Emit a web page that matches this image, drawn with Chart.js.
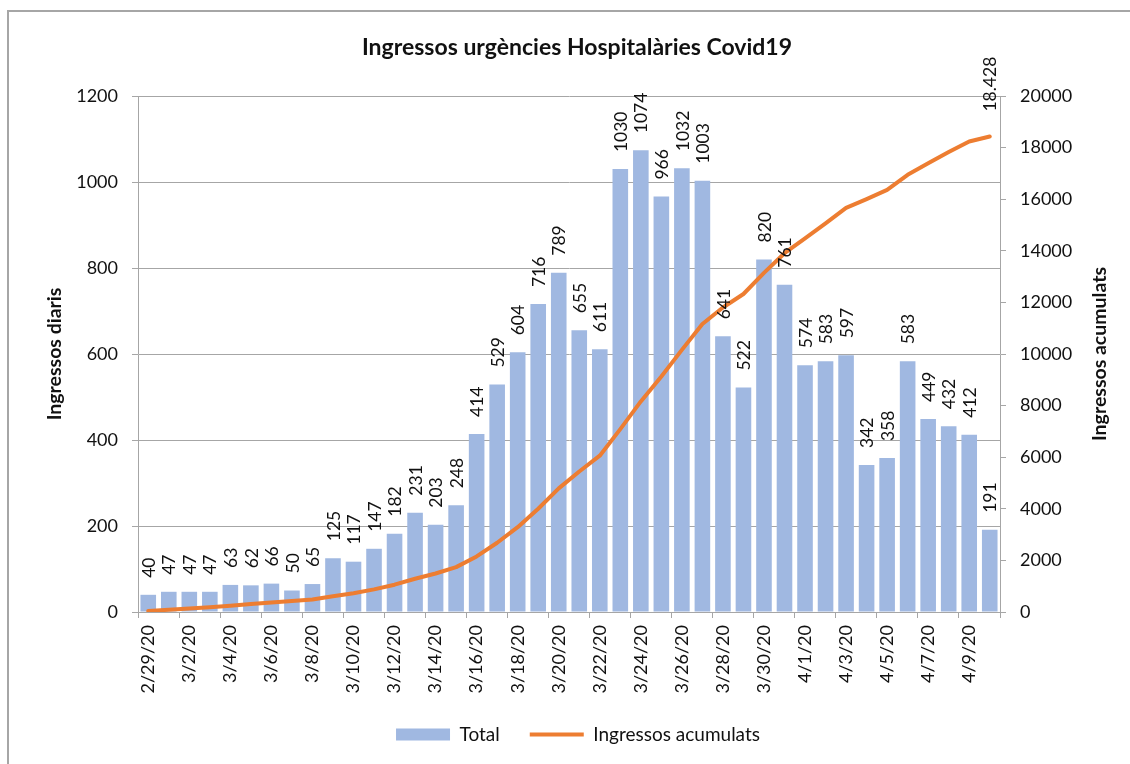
<!DOCTYPE html>
<html>
<head>
<meta charset="utf-8">
<script src="https://cdn.jsdelivr.net/npm/chart.js@4.4.0/dist/chart.umd.min.js"></script>
<style>
html,body{margin:0;padding:0;background:#fff;}
#wrap{width:1130px;height:764px;position:relative;}
</style>
</head>
<body>
<div id="wrap"><canvas id="c" width="1130" height="764"></canvas></div>
<script>
const chartTitle = 'Ingressos urgències Hospitalàries Covid19';
const leftAxisTitle = 'Ingressos diaris';
const rightAxisTitle = 'Ingressos acumulats';
const categories = ['2/29/20','3/1/20','3/2/20','3/3/20','3/4/20','3/5/20','3/6/20','3/7/20','3/8/20','3/9/20','3/10/20','3/11/20','3/12/20','3/13/20','3/14/20','3/15/20','3/16/20','3/17/20','3/18/20','3/19/20','3/20/20','3/21/20','3/22/20','3/23/20','3/24/20','3/25/20','3/26/20','3/27/20','3/28/20','3/29/20','3/30/20','3/31/20','4/1/20','4/2/20','4/3/20','4/4/20','4/5/20','4/6/20','4/7/20','4/8/20','4/9/20','4/10/20'];
const totalValues = [40,47,47,47,63,62,66,50,65,125,117,147,182,231,203,248,414,529,604,716,789,655,611,1030,1074,966,1032,1003,641,522,820,761,574,583,597,342,358,583,449,432,412,191];
const cumulativeValues = [40,87,134,181,244,306,372,422,487,612,729,876,1058,1289,1492,1740,2154,2683,3287,4003,4792,5447,6058,7088,8162,9128,10160,11163,11804,12326,13146,13907,14481,15064,15661,16003,16361,16944,17393,17825,18237,18428];
const cumulativeLastLabel = '18.428';
const seriesNames = ['Total', 'Ingressos acumulats'];

const FONT = 'Lato';
const GRAY = '#a6a6a6';
const TXT = '#111';

const extrasPlugin = {
  id: 'extras',
  beforeDraw(chart) {
    const ctx = chart.ctx;
    ctx.save();
    ctx.fillStyle = '#fff';
    ctx.fillRect(0, 0, chart.width, chart.height);
    ctx.strokeStyle = '#a6a6a6';
    ctx.lineWidth = 2;
    ctx.strokeRect(8, 11, 1300, 900);
    ctx.restore();
  },
  afterDatasetsDraw(chart) {
    const ctx = chart.ctx;
    ctx.save();
    ctx.fillStyle = TXT;
    ctx.font = '17.5px ' + FONT;
    ctx.textAlign = 'left';
    ctx.textBaseline = 'middle';
    const barMeta = chart.getDatasetMeta(0);
    barMeta.data.forEach((el, i) => {
      ctx.save();
      ctx.translate(el.x, el.y - 17);
      ctx.rotate(-Math.PI / 2);
      ctx.fillText(String(totalValues[i]), 0, 1);
      ctx.restore();
    });
    const lineMeta = chart.getDatasetMeta(1);
    const last = lineMeta.data[lineMeta.data.length - 1];
    ctx.save();
    ctx.translate(last.x, last.y - 25);
    ctx.rotate(-Math.PI / 2);
    ctx.fillText(cumulativeLastLabel, 0, 1);
    ctx.restore();
    ctx.restore();
  },
  afterDraw(chart) {
    const ctx = chart.ctx;
    const a = chart.chartArea;
    const cy = (a.top + a.bottom) / 2;
    ctx.save();
    ctx.fillStyle = TXT;
    ctx.textAlign = 'center';
    ctx.textBaseline = 'middle';
    ctx.font = 'bold 23px ' + FONT;
    ctx.fillText(chartTitle, 577, 48);
    ctx.font = 'bold 19.5px ' + FONT;
    ctx.save();
    ctx.translate(55, cy);
    ctx.rotate(-Math.PI / 2);
    ctx.fillText(leftAxisTitle, 0, 0);
    ctx.restore();
    ctx.save();
    ctx.translate(1100, cy);
    ctx.rotate(-Math.PI / 2);
    ctx.fillText(rightAxisTitle, 0, 0);
    ctx.restore();
    ctx.restore();
  }
};

new Chart(document.getElementById('c'), {
  data: {
    labels: categories,
    datasets: [
      {
        type: 'bar',
        label: seriesNames[0],
        data: totalValues,
        yAxisID: 'y',
        backgroundColor: 'rgb(160,184,225)',
        borderWidth: 0,
        barPercentage: 0.76,
        categoryPercentage: 1,
        order: 1,
        pointStyle: 'rect'
      },
      {
        type: 'line',
        label: seriesNames[1],
        data: cumulativeValues,
        yAxisID: 'y1',
        borderColor: '#ED7D31',
        backgroundColor: '#ED7D31',
        borderWidth: 4,
        borderCapStyle: 'round',
        borderJoinStyle: 'round',
        pointRadius: 0,
        tension: 0,
        fill: false,
        order: 0,
        pointStyle: 'line'
      }
    ]
  },
  options: {
    responsive: false,
    animation: false,
    devicePixelRatio: 1,
    layout: { padding: { top: 96, left: 26, right: 0, bottom: 10 } },
    plugins: {
      title: { display: false },
      tooltip: { enabled: false },
      legend: {
        display: true,
        position: 'bottom',
        labels: {
          usePointStyle: true,
          pointStyleWidth: 54,
          boxHeight: 12,
          padding: 30,
          color: TXT,
          font: { family: FONT, size: 19 },
          sort: (a, b) => a.datasetIndex - b.datasetIndex
        }
      }
    },
    scales: {
      x: {
        offset: true,
        grid: {
          offset: true,
          drawOnChartArea: false,
          tickLength: 6,
          color: c => (c.index === undefined || c.index % 2 === 0) ? GRAY : 'rgba(0,0,0,0)'
        },
        border: { color: GRAY, width: 1 },
        ticks: {
          autoSkip: false,
          maxRotation: 90,
          minRotation: 90,
          padding: 7,
          color: TXT,
          font: { family: FONT, size: 18 },
          callback: (v, i) => i % 2 === 0 ? categories[i] : ''
        },
        afterFit: s => { s.height = 83; }
      },
      y: {
        position: 'left',
        min: 0,
        max: 1200,
        grid: { color: GRAY, tickLength: 6 },
        border: { color: GRAY, width: 1 },
        ticks: {
          stepSize: 200,
          padding: 14,
          color: TXT,
          font: { family: FONT, size: 18 },
          callback: v => String(v)
        },
        afterFit: s => { s.width = 112; }
      },
      y1: {
        position: 'right',
        min: 0,
        max: 20000,
        grid: { drawOnChartArea: false, color: GRAY, tickLength: 6 },
        border: { color: GRAY, width: 1 },
        ticks: {
          stepSize: 2000,
          padding: 14,
          color: TXT,
          font: { family: FONT, size: 18 },
          callback: v => String(v)
        },
        afterFit: s => { s.width = 130; }
      }
    }
  },
  plugins: [extrasPlugin]
});
</script>
</body>
</html>
